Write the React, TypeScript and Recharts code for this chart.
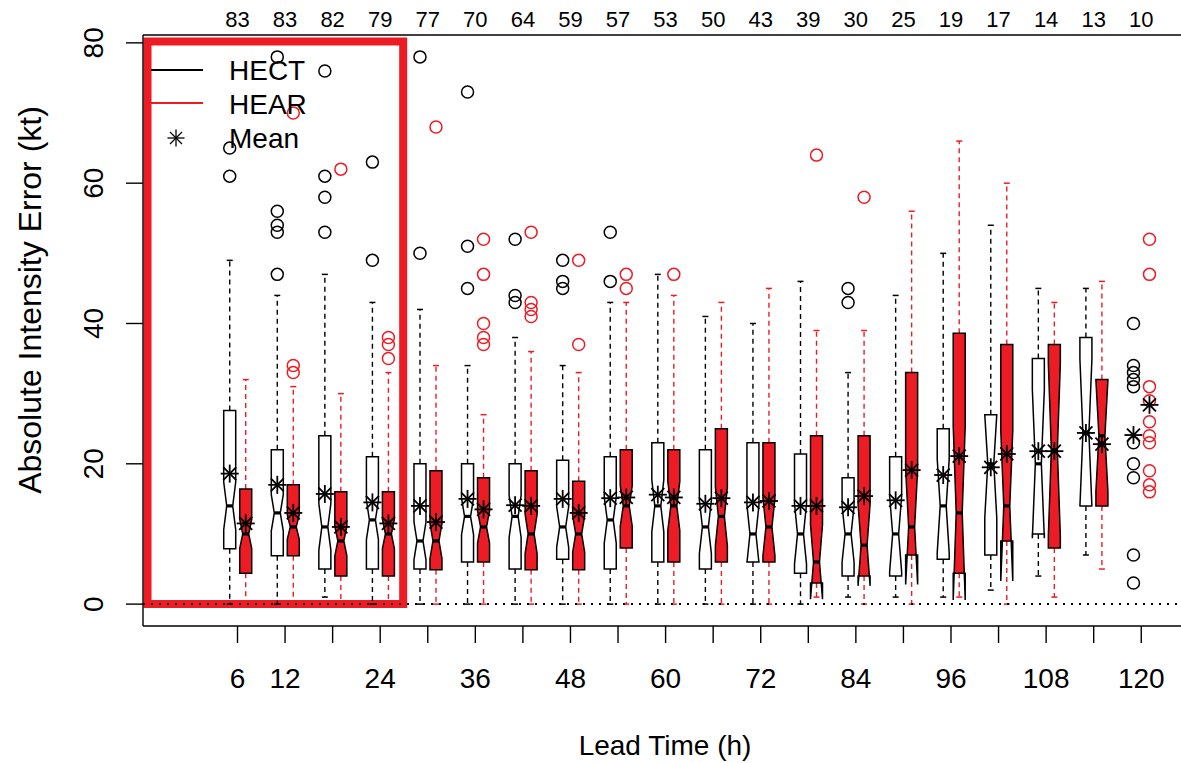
import React from 'react';
import { ComposedChart, Bar, XAxis, YAxis, ReferenceLine, ReferenceArea, Label } from 'recharts';

// ---------- data ----------
const leadTimes = [6, 12, 18, 24, 30, 36, 42, 48, 54, 60, 66, 72, 78, 84, 90, 96, 102, 108, 114, 120];
const caseCounts = [83, 83, 82, 79, 77, 70, 64, 59, 57, 53, 50, 43, 39, 30, 25, 19, 17, 14, 13, 10];
const shownTickLabels = [6, 12, 24, 36, 48, 60, 72, 84, 96, 108, 120];
const yTicks = [0, 20, 40, 60, 80];

// HECT
const hectQ1 = [7.9, 6.9, 5, 5, 5, 6, 5, 6.4, 5, 6, 5, 6, 4.4, 4, 4, 6.4, 7, 10, 14, null];
const hectQ3 = [27.6, 22, 24, 21, 20, 20, 20, 20.5, 21, 23, 22, 23, 21.4, 18, 21, 25, 27, 35, 38, null];
const hectMedian = [14, 13, 11, 12, 9, 12.5, 12.5, 11, 12, 14, 11, 10, 10, 10, 10, 14, 20, 20, 24.4, null];
const hectNotchLo = [10.6, 10.4, 7.7, 9.2, 6.3, 9.9, 9.5, 8.1, 8.7, 10.3, 7.2, 5.9, 5.7, 6, 4.6, 7.3, 12.3, 9.4, 13.9, null];
const hectNotchHi = [17.4, 15.6, 14.3, 14.8, 11.7, 15.1, 15.5, 13.9, 15.3, 17.7, 14.8, 14.1, 14.3, 14, 15.4, 20.7, 27, 30.6, 34.9, null];
const hectWhiskerLo = [0, 0, 1, 0, 0, 0, 0, 0, 0, 0, 0, 0, 0, 1, 1, 1, 2, 4, 7, null];
const hectWhiskerHi = [49, 44, 47, 43, 42, 34, 38, 34, 43, 47, 41, 40, 46, 33, 44, 50, 54, 45, 45, null];
const hectMean = [18.6, 17, 15.7, 14.5, 14, 15, 14.1, 15, 15.1, 15.6, 14.3, 14.5, 14, 13.8, 14.8, 18.4, 19.5, 21.8, 24.4, 24.1];
const hectOutliers: number[][] = [
  [61, 65], [78, 56, 54, 53, 47], [76, 61, 58, 53], [63, 49], [78, 50], [73, 51, 45], [52, 44, 43],
  [49, 46, 45], [53, 46], [], [], [], [], [45, 43], [], [], [], [], [],
  [40, 34, 33, 32, 31, 23, 20, 18, 7, 3],
];

// HEAR
const hearQ1 = [4.4, 6.9, 4, 4, 4.9, 6, 4.9, 4.9, 8, 6, 6, 6, 3, 4, 7, 4.4, 9, 8, 14, null];
const hearQ3 = [16.4, 17, 16, 16, 19, 18, 19, 17.5, 22, 22, 25, 23, 24, 24, 33, 38.6, 37, 37, 32, null];
const hearMedian = [10, 11, 9, 10, 9, 11, 10, 10, 14, 14, 12.5, 11, 6, 8.4, 11, 13, 14, 22, 24, null];
const hearNotchLo = [7.9, 9.25, 6.9, 7.9, 6.5, 8.7, 7.2, 7.4, 11.1, 10.5, 8.3, 6.9, 0.7, 2.6, 2.8, 0.6, 3.3, 9.7, 16.1, null];
const hearNotchHi = [12.1, 12.75, 11.1, 12.1, 11.5, 13.3, 12.8, 12.6, 16.9, 17.5, 16.7, 15.1, 11.3, 14.2, 19.2, 25.4, 24.7, 34.3, 31.9, null];
const hearWhiskerLo = [0, 0, 0, 0, 0, 0, 0, 0, 0, 0, 0, 0, 1, 0, 0, 1, 0, 1, 5, null];
const hearWhiskerHi = [32, 31, 30, 33, 34, 27, 36, 33, 43, 44, 43, 45, 39, 39, 56, 66, 60, 43, 46, null];
const hearMean = [11.5, 13, 11, 11.5, 11.7, 13.5, 14, 13, 15.2, 15.2, 15.1, 14.7, 14, 15.4, 19.1, 21.1, 21.4, 21.8, 22.8, 28.4];
const hearOutliers: number[][] = [
  [], [70, 34, 33], [62], [38, 37, 35], [68], [52, 47, 40, 38, 37], [53, 43, 42, 41], [49, 37], [47, 45],
  [47], [], [], [64], [58], [], [], [], [], [],
  [52, 47, 31, 29, 26, 24, 23, 19, 17, 16],
];

// highlight rectangle (data coordinates)
const highlightX = [-5.35, 26.9];
const highlightY = [0, 80.2];

// ---------- build table ----------
type BoxStats = {
  q1: number | null; q3: number | null; med: number | null;
  nLo: number | null; nHi: number | null;
  wLo: number | null; wHi: number | null;
  mean: number; out: number[]; range: [number, number];
};

const buildStats = (
  i: number, q1: (number | null)[], q3: (number | null)[], med: (number | null)[],
  nlo: (number | null)[], nhi: (number | null)[], wlo: (number | null)[], whi: (number | null)[],
  mean: number[], out: number[][],
): BoxStats => {
  const hasBox = q1[i] != null && q3[i] != null;
  const range: [number, number] = hasBox
    ? [q1[i] as number, q3[i] as number]
    : [Math.min(...out[i]), Math.max(...out[i])];
  return { q1: q1[i], q3: q3[i], med: med[i], nLo: nlo[i], nHi: nhi[i], wLo: wlo[i], wHi: whi[i], mean: mean[i], out: out[i], range };
};

const rows = leadTimes.map((h, i) => ({
  h,
  hect: buildStats(i, hectQ1, hectQ3, hectMedian, hectNotchLo, hectNotchHi, hectWhiskerLo, hectWhiskerHi, hectMean, hectOutliers),
  hear: buildStats(i, hearQ1, hearQ3, hearMedian, hearNotchLo, hearNotchHi, hearWhiskerLo, hearWhiskerHi, hearMean, hearOutliers),
}));

// ---------- styles ----------
const FONT = '"Liberation Sans", Arial, Helvetica, sans-serif';
const RED = '#ed1c24';

const Asterisk = ({ cx, cy, arm, diag, sw }: { cx: number; cy: number; arm: number; diag: number; sw: number }) => (
  <g stroke="#000" strokeWidth={sw} strokeLinecap="butt">
    <line x1={cx - arm} y1={cy} x2={cx + arm} y2={cy} />
    <line x1={cx} y1={cy - arm} x2={cx} y2={cy + arm} />
    <line x1={cx - diag} y1={cy - diag} x2={cx + diag} y2={cy + diag} />
    <line x1={cx - diag} y1={cy + diag} x2={cx + diag} y2={cy - diag} />
  </g>
);

const makeBoxShape = (key: 'hect' | 'hear', fill: string, lineColor: string) => (props: any) => {
  const { x, y, width, height, payload } = props;
  const s: BoxStats | undefined = payload ? payload[key] : undefined;
  if (!s || !Number.isFinite(x) || !Number.isFinite(y) || !Number.isFinite(height)) return <g />;
  const [v0, v1] = s.range;
  const py = (v: number) => y + ((v1 - v) * height) / (v1 - v0);
  const cx = x + width / 2;
  const hw = width / 2;
  const parts: React.ReactNode[] = [];
  if (s.q1 != null && s.q3 != null && s.med != null) {
    const q1 = py(s.q1), q3 = py(s.q3), med = py(s.med);
    const nlo = py(s.nLo as number), nhi = py(s.nHi as number);
    const hi = py(s.wHi as number), lo = py(s.wLo as number);
    const st = hw * 0.5;
    parts.push(
      <line key="wu" x1={cx} y1={q3} x2={cx} y2={hi} stroke={lineColor} strokeWidth={1.4} strokeDasharray="5 4" />,
      <line key="wl" x1={cx} y1={q1} x2={cx} y2={lo} stroke={lineColor} strokeWidth={1.4} strokeDasharray="5 4" />,
      <line key="su" x1={cx - st} y1={hi} x2={cx + st} y2={hi} stroke={lineColor} strokeWidth={1.5} />,
      <line key="sl" x1={cx - st} y1={lo} x2={cx + st} y2={lo} stroke={lineColor} strokeWidth={1.5} />,
    );
    const nf = 0.5;
    const pts = [
      [cx - hw, q1], [cx + hw, q1], [cx + hw, nlo], [cx + hw * nf, med], [cx + hw, nhi],
      [cx + hw, q3], [cx - hw, q3], [cx - hw, nhi], [cx - hw * nf, med], [cx - hw, nlo],
    ].map((p) => `${p[0]},${p[1]}`).join(' ');
    parts.push(<polygon key="box" points={pts} fill={fill} stroke="#000" strokeWidth={1.5} strokeLinejoin="miter" />);
    parts.push(<line key="med" x1={cx - hw * nf} y1={med} x2={cx + hw * nf} y2={med} stroke="#000" strokeWidth={3.2} />);
  }
  s.out.forEach((v, j) => {
    parts.push(<circle key={`o${j}`} cx={cx} cy={py(v)} r={6} fill="none" stroke={lineColor} strokeWidth={1.5} />);
  });
  parts.push(<Asterisk key="mean" cx={cx} cy={py(s.mean)} arm={9} diag={6.5} sw={1.8} />);
  return <g>{parts}</g>;
};

const YTick = (props: any) => {
  const { x, y, payload } = props;
  const tx = x - 21;
  return (
    <text x={tx} y={y} transform={`rotate(-90 ${tx} ${y})`} textAnchor="middle" fontSize={28} fontFamily={FONT} fill="#000">
      {payload.value}
    </text>
  );
};

const XTitle = (props: any) => {
  const { viewBox } = props;
  const cx = viewBox.x + viewBox.width / 2;
  return (
    <text x={cx} y={755} textAnchor="middle" fontSize={28} fontFamily={FONT} fill="#000">Lead Time (h)</text>
  );
};

const YTitle = () => {
  const cy = 300;
  const tx = 41;
  return (
    <text x={tx} y={cy} transform={`rotate(-90 ${tx} ${cy})`} textAnchor="middle" fontSize={32} fontFamily={FONT} fill="#000">
      Absolute Intensity Error (kt)
    </text>
  );
};

const LegendOverlay = () => (
  <svg width={1181} height={763} style={{ position: 'absolute', left: 0, top: 0, pointerEvents: 'none' }}>
    <line x1={151} y1={70} x2={203} y2={70} stroke="#000" strokeWidth={2.2} />
    <line x1={151} y1={103} x2={203} y2={103} stroke={RED} strokeWidth={2} />
    <Asterisk cx={176} cy={138} arm={8.5} diag={6} sw={1.3} />
    <text x={229} y={80} fontSize={28} fontFamily={FONT} fill="#000">HECT</text>
    <text x={229} y={114} fontSize={28} fontFamily={FONT} fill="#000">HEAR</text>
    <text x={229} y={148} fontSize={28} fontFamily={FONT} fill="#000">Mean</text>
  </svg>
);

const xDomain: [number, number] = [-5.92, 125.77];

export default function App() {
  return (
    <div style={{ position: 'absolute', left: 0, top: 0, width: 1181, height: 763, overflow: 'hidden', background: '#fff' }}>
      <ComposedChart width={1187} height={763} data={rows} margin={{ top: 0, right: 0, bottom: 0, left: 0 }} barGap={4}>
        <XAxis
          xAxisId="top"
          orientation="top"
          dataKey="h"
          type="number"
          domain={xDomain}
          allowDataOverflow
          ticks={leadTimes}
          interval={0}
          height={35}
          tickLine={false}
          tickSize={0}
          tickMargin={8}
          axisLine={{ stroke: '#000', strokeWidth: 1.4 }}
          tick={{ fontSize: 22, fontFamily: FONT, fill: '#000' }}
          tickFormatter={(v: number) => {
            const i = leadTimes.indexOf(v);
            return i >= 0 ? String(caseCounts[i]) : '';
          }}
        />
        <XAxis
          dataKey="h"
          type="number"
          domain={xDomain}
          allowDataOverflow
          ticks={leadTimes}
          interval={0}
          height={137}
          tickSize={17}
          tickMargin={25}
          axisLine={{ stroke: '#000', strokeWidth: 1.4 }}
          tickLine={{ stroke: '#000', strokeWidth: 1.4 }}
          tick={{ fontSize: 28, fontFamily: FONT, fill: '#000' }}
          tickFormatter={(v: number) => (shownTickLabels.includes(v) ? String(v) : '')}
        >
          <Label content={<XTitle />} />
        </XAxis>
        <YAxis
          type="number"
          domain={[-3.12, 81.12]}
          allowDataOverflow
          ticks={yTicks}
          interval={0}
          width={143}
          tickSize={17}
          axisLine={{ stroke: '#000', strokeWidth: 1.4 }}
          tickLine={{ stroke: '#000', strokeWidth: 1.4 }}
          tick={<YTick />}
        >
          <Label content={<YTitle />} />
        </YAxis>
        <ReferenceLine y={0} stroke="#000" strokeWidth={2} strokeDasharray="2 6" />
        <Bar
          dataKey={(d: any) => d.hect.range}
          barSize={12}
          isAnimationActive={false}
          shape={makeBoxShape('hect', '#ffffff', '#000000')}
        />
        <Bar
          dataKey={(d: any) => d.hear.range}
          barSize={12}
          isAnimationActive={false}
          shape={makeBoxShape('hear', RED, RED)}
        />
        <ReferenceArea
          x1={highlightX[0]}
          x2={highlightX[1]}
          y1={highlightY[0]}
          y2={highlightY[1]}
          fill="none"
          fillOpacity={0}
          stroke={RED}
          strokeWidth={8}
          ifOverflow="visible"
        />
      </ComposedChart>
      <LegendOverlay />
    </div>
  );
}
